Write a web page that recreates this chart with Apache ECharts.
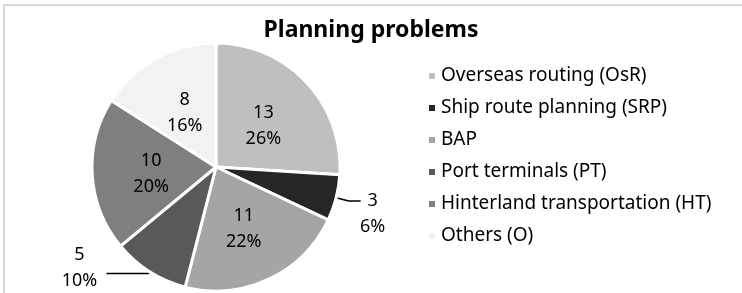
<!DOCTYPE html>
<html>
<head>
<meta charset="utf-8">
<style>
  html, body { margin: 0; padding: 0; background: #fff; }
  #chart { width: 742px; height: 293px; }
</style>
</head>
<body>
<div id="chart"></div>
<script src="https://cdn.jsdelivr.net/npm/echarts@6/dist/echarts.min.js"></script>
<script>
  var categories = ['Overseas routing (OsR)', 'Ship route planning (SRP)', 'BAP',
                    'Port terminals (PT)', 'Hinterland transportation (HT)', 'Others (O)'];
  var counts = [13, 3, 11, 5, 10, 8];
  var colors = ['#bfbfbf', '#262626', '#a5a5a5', '#595959', '#7f7f7f', '#f2f2f2'];
  // small slices get their label outside with a leader line
  var outside = [false, true, false, true, false, false];

  var chart = echarts.init(document.getElementById('chart'));

  var data = categories.map(function (name, i) {
    var item = { name: name, value: counts[i], itemStyle: { color: colors[i] } };
    if (outside[i]) {
      item.label = { position: 'outside', distanceToLabelLine: 2 };
      item.labelLine = i === 1 ? { show: true, length: 13, length2: 12 }
                               : { show: true, length: 2, length2: 42 };
    }
    return item;
  });

  var option = {
    animation: false,
    textStyle: { fontFamily: 'Noto Sans' },
    title: {
      text: 'Planning problems',
      left: 366,
      top: 14,
      textAlign: 'center',
      textStyle: { fontSize: 23, fontWeight: 'bold', color: '#000', fontFamily: 'Noto Sans' }
    },
    graphic: [{
      type: 'rect',
      shape: { x: 4, y: 5, width: 760, height: 300 },
      style: { fill: 'none', stroke: '#d9d9d9', lineWidth: 2 },
      silent: true
    }],
    legend: {
      orient: 'vertical',
      left: 422,
      top: 60,
      icon: 'rect',
      itemWidth: 8,
      itemHeight: 8,
      itemGap: 10,
      textStyle: { fontSize: 19, color: '#000', lineHeight: 22, padding: [0, 0, 0, 0] },
      data: categories
    },
    series: [{
      type: 'pie',
      center: [216, 167],
      radius: [0, 124],
      startAngle: 90,
      clockwise: true,
      avoidLabelOverlap: false,
      itemStyle: { borderColor: '#fff', borderWidth: 3 },
      label: {
        show: true,
        position: 'inner',
        formatter: function (p) { return '{a|' + p.value + '}\n{a|' + Math.round(p.percent) + '%}'; },
        rich: {
          a: { fontSize: 18, lineHeight: 26, color: '#000', width: 40, align: 'center' }
        }
      },
      labelLine: {
        lineStyle: { color: '#000', width: 1.5 }
      },
      labelLayout: function (p) {
        if (p.dataIndex === 1) return { dx: -10, dy: 13 };
        if (p.dataIndex === 3) return { dx: -5, dy: -6 };
        return { dy: 3 };
      },
      data: data
    }]
  };

  chart.setOption(option);
</script>
</body>
</html>
